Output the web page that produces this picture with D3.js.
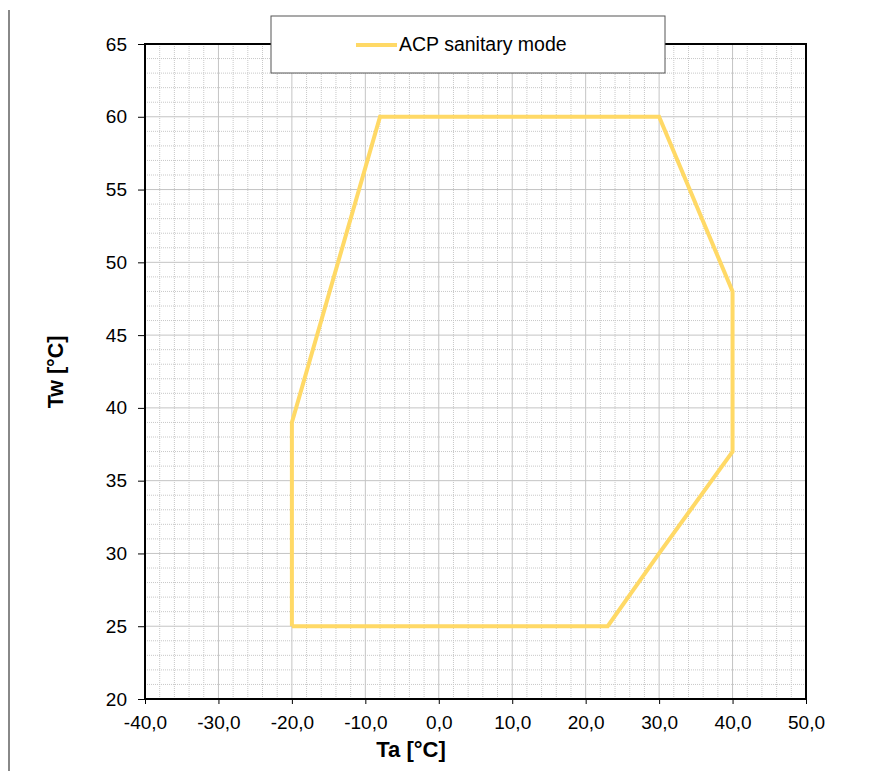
<!DOCTYPE html>
<html>
<head>
<meta charset="utf-8">
<script src="https://cdn.jsdelivr.net/npm/d3@7"></script>
<style>
  body { margin: 0; background: #fff; }
  text { font-family: "Liberation Sans", Arial, sans-serif; }
</style>
</head>
<body>
<svg width="871" height="771"></svg>
<script>
// envelope points (Ta, Tw)
var taValues = [-20, 23, 30, 40, 40, 30, -8, -20, -20];
var twValues = [25, 25, 30, 37, 48, 60, 60, 39, 25];
var seriesName = "ACP sanitary mode";
var xTicks = [-40, -30, -20, -10, 0, 10, 20, 30, 40, 50];
var yTicks = [20, 25, 30, 35, 40, 45, 50, 55, 60, 65];

var svg = d3.select("svg");
var pLeft = 145, pRight = 806, pTop = 44, pBottom = 699;

var x = d3.scaleLinear().domain([-40, 50]).range([pLeft, pRight]);
var y = d3.scaleLinear().domain([20, 65]).range([pBottom, pTop]);

// page frame line on the left
svg.append("line")
    .attr("x1", 9).attr("x2", 9).attr("y1", 10).attr("y2", 771)
    .attr("stroke", "#888").attr("stroke-width", 2);

// minor grid
var g = svg.append("g");
g.selectAll(".vx").data(d3.range(-40, 51, 2).filter(function(d) { return d % 10 !== 0; }))
  .enter().append("line")
    .attr("x1", function(d) { return x(d); }).attr("x2", function(d) { return x(d); })
    .attr("y1", pTop).attr("y2", pBottom)
    .attr("stroke", "#c8c8c8").attr("stroke-dasharray", "1,1");
g.selectAll(".hy").data(d3.range(20, 66, 1).filter(function(d) { return d % 5 !== 0; }))
  .enter().append("line")
    .attr("y1", function(d) { return y(d); }).attr("y2", function(d) { return y(d); })
    .attr("x1", pLeft).attr("x2", pRight)
    .attr("stroke", "#c8c8c8").attr("stroke-dasharray", "1,1");
// major grid
g.selectAll(".vmx").data(xTicks).enter().append("line")
    .attr("x1", function(d) { return x(d); }).attr("x2", function(d) { return x(d); })
    .attr("y1", pTop).attr("y2", pBottom)
    .attr("stroke", "#c4c4c4");
g.selectAll(".hmy").data(yTicks).enter().append("line")
    .attr("y1", function(d) { return y(d); }).attr("y2", function(d) { return y(d); })
    .attr("x1", pLeft).attr("x2", pRight)
    .attr("stroke", "#c4c4c4");

// frame
svg.append("rect")
    .attr("x", pLeft).attr("y", pTop)
    .attr("width", pRight - pLeft).attr("height", pBottom - pTop)
    .attr("fill", "none").attr("stroke", "#000").attr("stroke-width", 2);

// axes
var xAxis = svg.append("g")
    .attr("transform", "translate(0," + pBottom + ")")
    .call(d3.axisBottom(x).tickValues(xTicks).tickSize(5).tickPadding(12)
        .tickFormat(function(d) { return d.toFixed(1).replace(".", ","); }));
var yAxis = svg.append("g")
    .attr("transform", "translate(" + pLeft + ",0)")
    .call(d3.axisLeft(y).tickValues(yTicks).tickSize(7).tickPadding(11));
[xAxis, yAxis].forEach(function(a) {
    a.select(".domain").remove();
    a.selectAll("line").attr("stroke", "#000");
    a.selectAll("text").attr("font-size", 19).attr("fill", "#000")
        .style("font-family", "'Liberation Sans', Arial, sans-serif");
});

// envelope
var pts = taValues.map(function(d, i) { return [d, twValues[i]]; });
svg.append("path")
    .datum(pts)
    .attr("d", d3.line().x(function(d) { return x(d[0]); }).y(function(d) { return y(d[1]); }))
    .attr("fill", "none").attr("stroke", "#ffd966").attr("stroke-width", 4)
    .attr("stroke-linejoin", "miter");

// axis titles
svg.append("text")
    .attr("x", 411).attr("y", 757)
    .attr("text-anchor", "middle").attr("font-size", 22).attr("font-weight", "bold")
    .text("Ta [°C]");
svg.append("text")
    .attr("transform", "translate(63,372) rotate(-90)")
    .attr("text-anchor", "middle").attr("font-size", 21.5).attr("font-weight", "bold")
    .text("Tw [°C]");

// legend
var lg = svg.append("g");
lg.append("rect")
    .attr("x", 271).attr("y", 16).attr("width", 394).attr("height", 57)
    .attr("fill", "#fff").attr("stroke", "#555").attr("stroke-width", 1);
lg.append("line")
    .attr("x1", 356).attr("x2", 397).attr("y1", 45).attr("y2", 45)
    .attr("stroke", "#ffd966").attr("stroke-width", 4);
lg.append("text")
    .attr("x", 399).attr("y", 51)
    .attr("font-size", 19.5).attr("fill", "#000")
    .text(seriesName);
</script>
</body>
</html>
